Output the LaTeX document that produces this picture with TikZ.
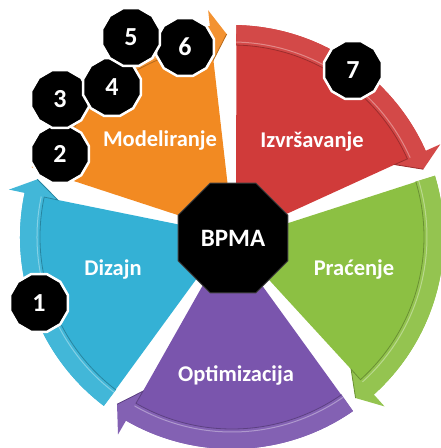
\documentclass[tikz,border=0pt]{standalone}
\usepackage{fontspec}
\setmainfont{Carlito}
\usetikzlibrary{shapes.geometric, calc}

\definecolor{segorange}{HTML}{F28A22}
\definecolor{segred}{HTML}{D03B3A}
\definecolor{seggreen}{HTML}{8CC043}
\definecolor{segpurple}{HTML}{7A55AD}
\definecolor{segblue}{HTML}{34B1D5}

\tikzset{
  seglabel/.style={text=white, font=\bfseries\fontsize{22.5}{26}\selectfont},
  stepnum/.style={regular polygon, regular polygon sides=12, fill=black, draw=white,
    line width=2.5pt, minimum size=60pt, inner sep=0pt, text=white,
    font=\bfseries\fontsize{26}{28}\selectfont},
  hub/.style={regular polygon, regular polygon sides=8, fill=black, draw=black!75,
    line width=1pt, minimum size=119pt, inner sep=0pt, text=white,
    font=\bfseries\fontsize{25}{28}\selectfont},
}

\begin{document}
\begin{tikzpicture}[x=1pt, y=1pt]
  \useasboundingbox (-232,-211) rectangle (209,237);
  \def\R{212pt}   % outer rim
  \def\Ri{192pt}  % inner edge of the arrow shaft
  \def\Rwi{178pt} % inner wing
  \def\Rwo{228pt} % outer wing
  \def\Rt{203pt}  % tip

  % segments, each ending (clockwise) at \e
  \foreach \e/\col in {90/segorange, 18/segred, -54/seggreen, -126/segpurple, 162/segblue}{
    \pgfmathsetmacro{\s}{\e+72}
    \fill[\col] ({\s-90}:4pt) -- ({\s-1.2}:\R) arc[start angle={\s-1.2}, end angle={\e+6}, radius=\R]
      -- ({\e+6}:\Rwi) -- cycle;
    \fill[\col!93!white] ({\s-1.2}:\R) arc[start angle={\s-1.2}, end angle={\e+6}, radius=\R]
      -- ({\e+6}:\Rwo) -- ({\e+1.5}:\Rt) -- ({\e+6}:\Rwi) -- ({\e+6}:\Ri)
      arc[start angle={\e+6}, end angle={\s-1.2}, radius=\Ri] -- cycle;
    \draw[\col!75!black, line width=0.8pt] ({\s-1.2}:\Ri) arc[start angle={\s-1.2}, end angle={\e+6}, radius=\Ri]
      -- ({\e+6}:\Rwi) -- ({\e+1.5}:\Rt);
    \draw[white, opacity=0.35, line width=1pt] ({\s-1.2}:{\Ri+3pt}) arc[start angle={\s-1.2}, end angle={\e+6}, radius={\Ri+3pt}];
  }

  \node[seglabel] (modeliranje) at (-72,96) {Modeliranje};
  \node[seglabel] (izvrsavanje) at (80,95) {Izvršavanje};
  \node[seglabel] (pracenje) at (122,-33) {Praćenje};
  \node[seglabel] (optimizacija) at (4,-138) {Optimizacija};
  \node[seglabel] (dizajn) at (-119,-33) {Dizajn};

  \node[hub] (bpma) at (1,-1) {BPMA};

  \node[stepnum] (n1) at (-193,-66) {1};
  \node[stepnum] (n2) at (-172,83) {2};
  \node[stepnum] (n3) at (-172,138) {3};
  \node[stepnum] (n4) at (-120,150) {4};
  \node[stepnum] (n6) at (-47,190) {6};
  \node[stepnum] (n5) at (-101,200) {5};
  \node[stepnum] (n7) at (121,167) {7};
\end{tikzpicture}
\end{document}
